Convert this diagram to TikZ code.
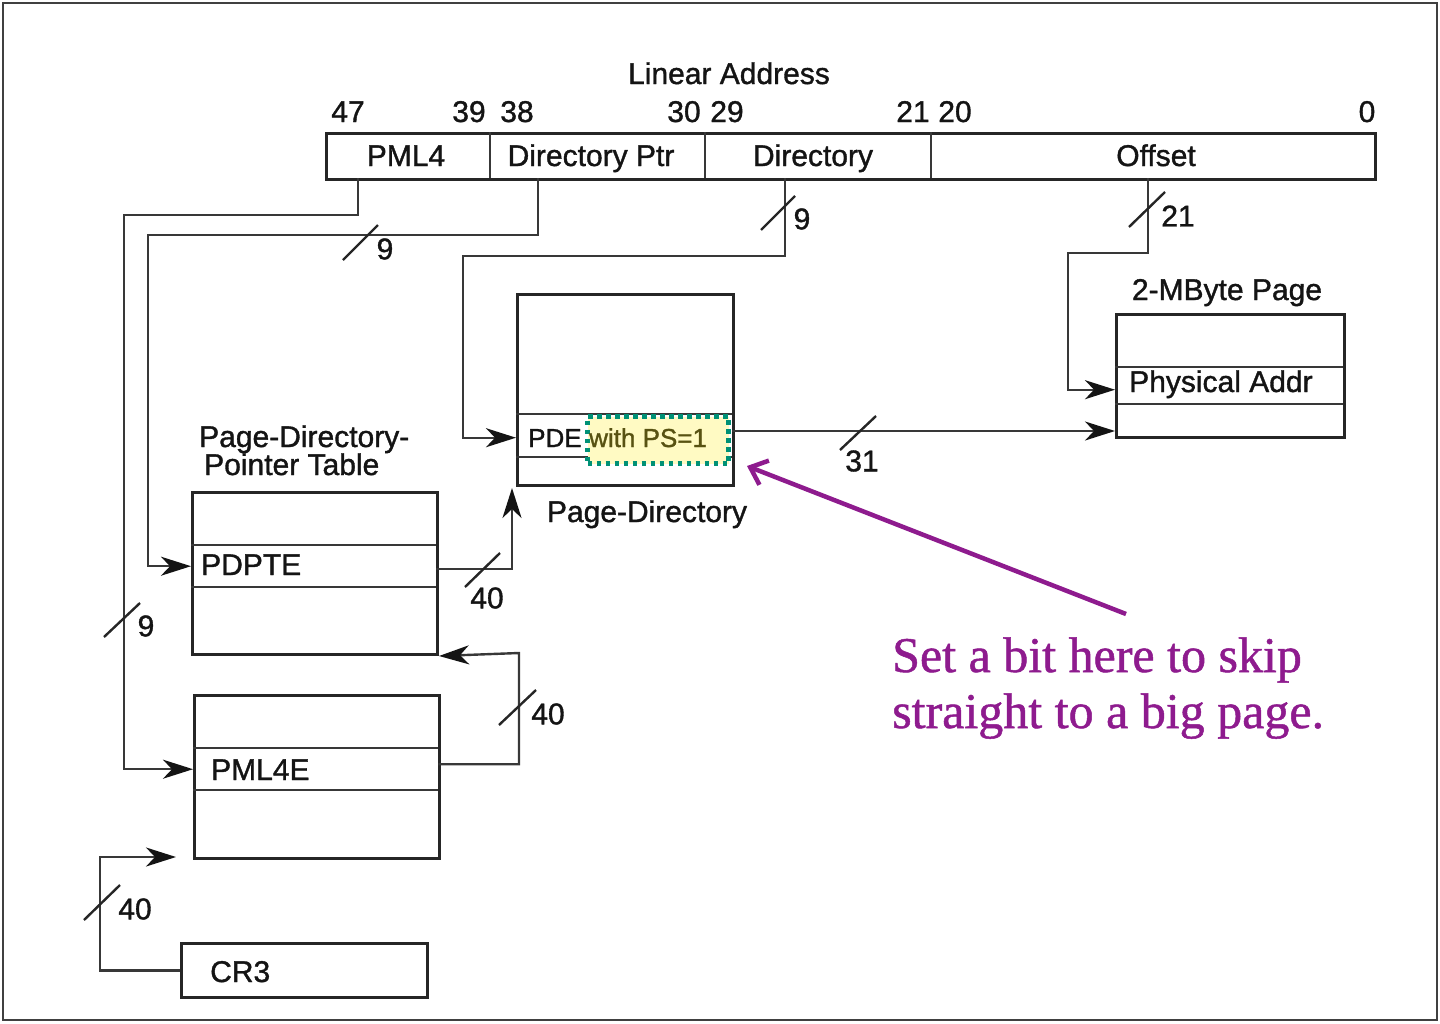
\documentclass[tikz,border=0pt]{standalone}
\usepackage{fontspec}
\setmainfont{Liberation Sans}[FakeBold=1.2]
\newfontfamily\notefont{Liberation Serif}[FakeBold=1.0]
\usetikzlibrary{arrows.meta}
\definecolor{notepurple}{RGB}{142,27,142}
\definecolor{hlyellow}{RGB}{255,250,195}
\definecolor{hlteal}{RGB}{0,145,118}
\definecolor{hltext}{RGB}{88,82,18}
\definecolor{ink}{RGB}{20,20,20}
\tikzset{
  arrowed/.style={-{Stealth[length=30pt,width=19pt,inset=9pt,color=black!92]}},
}

\begin{document}
\begin{tikzpicture}[x=1pt,y=-1pt,
  lbl/.style={font=\fontsize{30}{30}\selectfont, text=ink, inner sep=0pt},
  small/.style={font=\fontsize{26}{26}\selectfont, text=ink, inner sep=0pt},
  note/.style={font=\notefont\fontsize{50}{56}\selectfont, text=notepurple, inner sep=0pt},
  tblbox/.style={draw=black!85, line width=3pt, inner sep=0pt, anchor=north west},
  cell/.style={inner sep=0pt, anchor=north west},
  rowline/.style={draw=black!78, line width=2pt},
  conn/.style={draw=black!78, line width=2.4pt},
  busmark/.style={draw=black!85, line width=2.4pt},
  notearrow/.style={draw=notepurple, line width=4.5pt,
    -{Straight Barb[length=15pt,width=26pt,line width=4.5pt]}},
]
\useasboundingbox (0,0) rectangle (1440,1023);
\draw[draw=black!75, line width=2.5pt] (3,3) rectangle (1437,1020);

% ---------- linear address ----------
\node[lbl, anchor=base] (latitle) at (729,84) {Linear Address};
\node[tblbox, minimum width=1049pt, minimum height=46pt] (laddr) at (325,132) {};
\node[cell, minimum width=165pt, minimum height=46pt] (fpml4) at (325,132) {};
\node[cell, minimum width=215pt, minimum height=46pt] (fdptr) at (490,132) {};
\node[cell, minimum width=226pt, minimum height=46pt] (fdir)  at (705,132) {};
\node[cell, minimum width=443pt, minimum height=46pt] (foff)  at (931,132) {};
\draw[rowline] (fpml4.north east) -- (fpml4.south east);
\draw[rowline] (fdptr.north east) -- (fdptr.south east);
\draw[rowline] (fdir.north east) -- (fdir.south east);
\node[lbl, anchor=base] (tpml4) at (406,166) {PML4};
\node[lbl, anchor=base] (tdptr) at (591,166) {Directory Ptr};
\node[lbl, anchor=base] (tdir)  at (813,166) {Directory};
\node[lbl, anchor=base] (toff)  at (1156,166) {Offset};

\node[lbl, anchor=base] (b47) at (348,122) {47};
\node[lbl, anchor=base] (b39) at (469,122) {39};
\node[lbl, anchor=base] (b38) at (517,122) {38};
\node[lbl, anchor=base] (b30) at (684,122) {30};
\node[lbl, anchor=base] (b29) at (727,122) {29};
\node[lbl, anchor=base] (b21) at (913,122) {21};
\node[lbl, anchor=base] (b20) at (955,122) {20};
\node[lbl, anchor=base] (b0)  at (1367,122) {0};

% ---------- page directory ----------
\node[tblbox, minimum width=216pt, minimum height=191pt] (pd) at (516,293) {};
\node[cell, minimum width=216pt, minimum height=43pt] (pde) at (516,414) {};
\draw[rowline] (pde.north west) -- (pde.north east);
\draw[rowline] (pde.south west) -- (pde.south east);
\node[small, anchor=base west] (tpde) at (528,447) {PDE};
\node[cell, fill=hlyellow, draw=hlteal, line width=5pt, dash pattern=on 4.5pt off 4.5pt,
      minimum width=141pt, minimum height=47pt] (psbit) at (585,414) {};
\node[small, anchor=base west, text=hltext] (tps) at (589,447) {with PS=1};
\node[lbl, anchor=base] (tpd) at (647,522) {Page-Directory};

% ---------- 2-MByte page ----------
\node[tblbox, minimum width=228pt, minimum height=123pt] (pg2) at (1115,313) {};
\node[cell, minimum width=228pt, minimum height=37pt] (phys) at (1115,367) {};
\draw[rowline] (phys.north west) -- (phys.north east);
\draw[rowline] (phys.south west) -- (phys.south east);
\node[lbl, anchor=base west] (tphys) at (1129,392) {Physical Addr};
\node[lbl, anchor=base] (tpg2) at (1227,300) {2-MByte Page};

% ---------- page-directory-pointer table ----------
\node[tblbox, minimum width=245pt, minimum height=162pt] (pdpt) at (191,491) {};
\node[cell, minimum width=245pt, minimum height=42pt] (pdpte) at (191,545) {};
\draw[rowline] (pdpte.north west) -- (pdpte.north east);
\draw[rowline] (pdpte.south west) -- (pdpte.south east);
\node[lbl, anchor=base west] (tpdpte) at (201,575) {PDPTE};
\node[lbl, anchor=base west] (tpdpt1) at (199,447) {Page-Directory-};
\node[lbl, anchor=base west] (tpdpt2) at (204,475) {Pointer Table};

% ---------- PML4 table ----------
\node[tblbox, minimum width=245pt, minimum height=163pt] (pml4t) at (193,694) {};
\node[cell, minimum width=245pt, minimum height=42pt] (pml4e) at (193,748) {};
\draw[rowline] (pml4e.north west) -- (pml4e.north east);
\draw[rowline] (pml4e.south west) -- (pml4e.south east);
\node[lbl, anchor=base west] (tpml4e) at (211,780) {PML4E};

% ---------- CR3 ----------
\node[tblbox, minimum width=246pt, minimum height=54pt] (cr3) at (180,942) {};
\node[lbl, anchor=base west] (tcr3) at (210,982) {CR3};

% ---------- connectors ----------
\coordinate (tapA) at (358,178);
\coordinate (tapB) at (538,178);
\coordinate (tapC) at (785,178);
\coordinate (tapD) at (1148,178);
\coordinate (pdeout) at (732,431);
\coordinate (pdfoot) at (512,488);
\coordinate (pml4in) at (176,857);

\draw[conn, arrowed] (tapA) |- (124,215) |- (pml4e.west);
\draw[conn, arrowed] (tapB) |- (148,235) |- (pdpte.west);
\draw[conn, arrowed] (tapC) |- (463,256) |- ([yshift=-2pt]pde.west);
\draw[conn, arrowed] (tapD) |- (1068,253) |- ([yshift=-4pt]phys.west);
\draw[conn, arrowed] (pdeout) -- (pdeout -| pg2.west);
\draw[conn, arrowed] ([yshift=-3pt]pdpte.east) -| (pdfoot);
\draw[conn, arrowed] ([yshift=5pt]pml4e.east) -| (519,653) -- (pdpt.south east);
\draw[conn, arrowed] (cr3.west) -| (100,857) -- (pml4in);

% ---------- bus-width marks ----------
\draw[busmark] (343,260) -- (378,225);   \node[lbl] (w1) at (385,249) {9};
\draw[busmark] (761,230) -- (795,196);   \node[lbl] (w2) at (802,219) {9};
\draw[busmark] (1129,227) -- (1165,192); \node[lbl] (w3) at (1178,216) {21};
\draw[busmark] (104,637) -- (140,603);   \node[lbl] (w4) at (146,626) {9};
\draw[busmark] (465,587) -- (500,553);   \node[lbl] (w5) at (487,598) {40};
\draw[busmark] (499,725) -- (536,690);   \node[lbl] (w6) at (548,714) {40};
\draw[busmark] (84,920) -- (120,885);    \node[lbl] (w7) at (135,909) {40};
\draw[busmark] (840,450) -- (876,416);   \node[lbl] (w8) at (862,461) {31};

% ---------- annotation ----------
\node[note, anchor=base west] (note1) at (892,672) {Set a bit here to skip};
\node[note, anchor=base west] (note2) at (892,728) {straight to a big page.};
\coordinate (notetail) at (1126,614);
\draw[notearrow] (notetail) -- ([xshift=16pt]psbit.south east);
\end{tikzpicture}
\end{document}
